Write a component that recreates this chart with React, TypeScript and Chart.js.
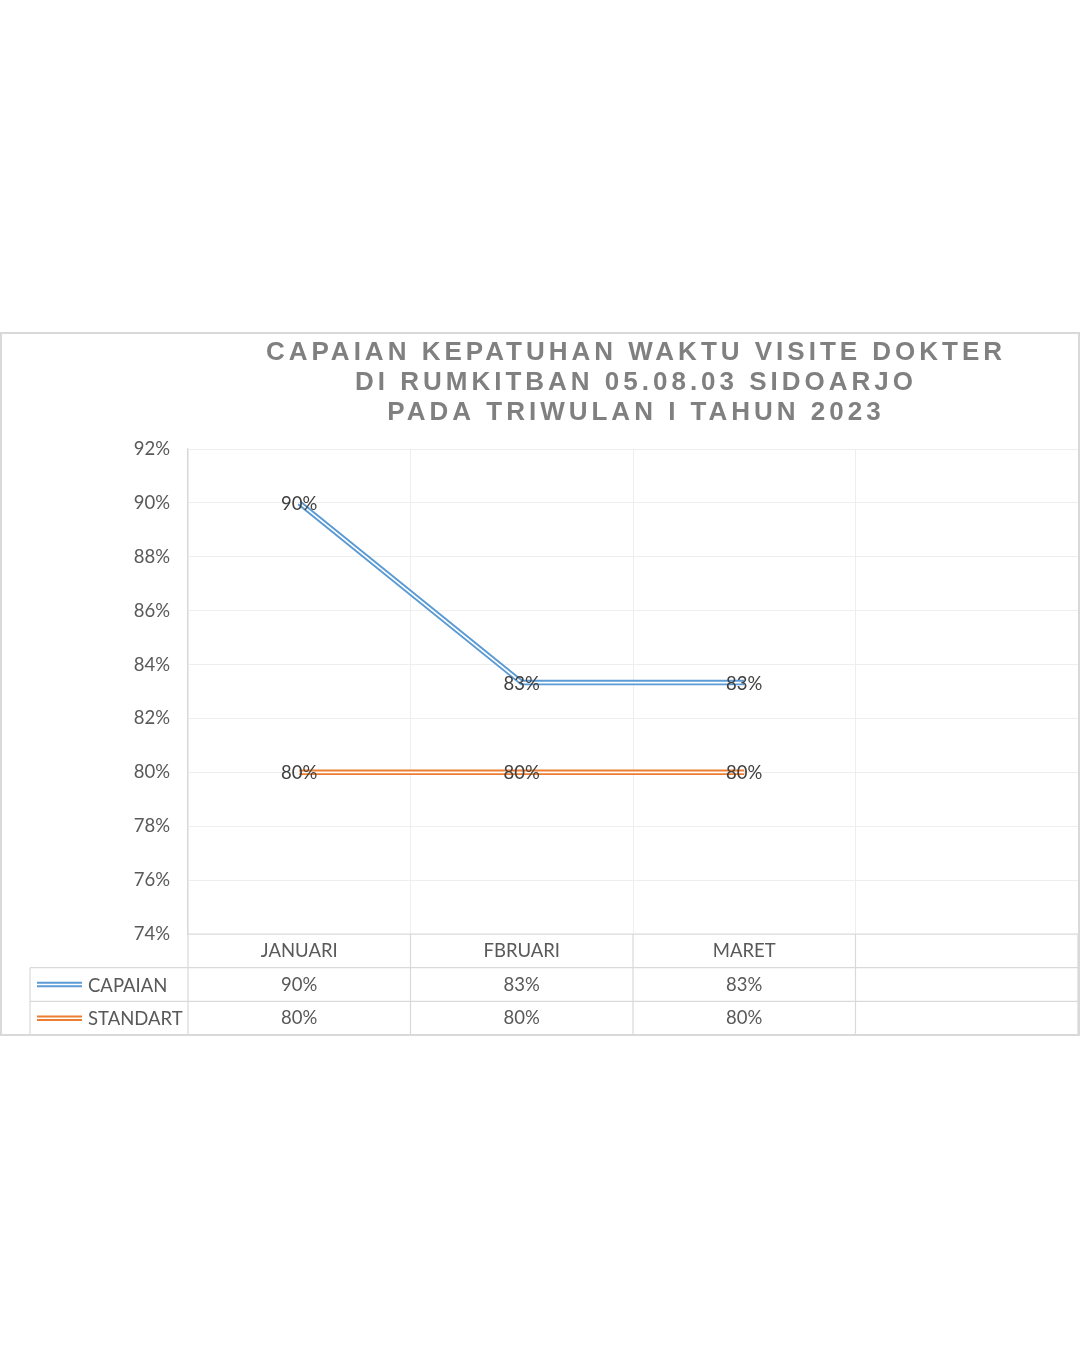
import React, { useEffect, useRef } from "react";
import { Chart, registerables } from "chart.js";

Chart.register(...registerables);

const titleLines = [
  "CAPAIAN KEPATUHAN WAKTU VISITE DOKTER",
  "DI RUMKITBAN 05.08.03 SIDOARJO",
  "PADA TRIWULAN I TAHUN 2023",
];
const categories = ["JANUARI", "FBRUARI", "MARET", ""];
const capaian: (number | null)[] = [90, 83.33, 83.33, null];
const standart: (number | null)[] = [80, 80, 80, null];
const seriesNames = ["CAPAIAN", "STANDART"];
const seriesColors = ["#5b9bd5", "#ed7d31"];
const yMin = 74;
const yMax = 92;
const yStep = 2;

const FONT = "Lato, 'Open Sans', sans-serif";
const TEXT = "#595959";
const GRIDLINE = "#d9d9d9";

const fmt = (v: number | null) => (v == null ? "" : Math.round(v) + "%");

const decorPlugin = {
  id: "decor",
  beforeDraw(chart: any) {
    const { ctx, width, height } = chart;
    ctx.save();
    ctx.fillStyle = "#ffffff";
    ctx.fillRect(0, 0, width, height);
    ctx.restore();
  },
  afterDatasetsDraw(chart: any) {
    const { ctx } = chart;
    ctx.save();
    ctx.font = `18.5px ${FONT}`;
    ctx.fillStyle = "#404040";
    ctx.textAlign = "center";
    ctx.textBaseline = "middle";
    [0, 1].forEach((di) => {
      const meta = chart.getDatasetMeta(di);
      const data = chart.data.datasets[di].data;
      meta.data.forEach((pt: any, i: number) => {
        if (data[i] == null) return;
        ctx.fillText(fmt(data[i]), pt.x, pt.y + 1);
      });
    });
    ctx.restore();
  },
  afterDraw(chart: any) {
    const { ctx, width, height, chartArea, scales } = chart;
    const xs = scales.x;
    const left = chartArea.left;
    const right = chartArea.right;
    const bottom = chartArea.bottom;
    const rowH = 33.7;
    const legendLeft = 30;

    // Title
    ctx.save();
    ctx.fillStyle = "#808080";
    ctx.font = `bold 26px 'Liberation Sans', Arial, sans-serif`;
    (ctx as any).letterSpacing = "4px";
    ctx.textAlign = "center";
    ctx.textBaseline = "middle";
    const cx = (left + right) / 2 + 3;
    titleLines.forEach((t, i) => ctx.fillText(t, cx, 21 + i * 30));
    ctx.restore();

    // Table lines
    ctx.save();
    ctx.strokeStyle = GRIDLINE;
    ctx.lineWidth = 1.2;
    const n = categories.length;
    const step = xs.getPixelForValue(1) - xs.getPixelForValue(0);
    const bounds: number[] = [];
    for (let i = 0; i <= n; i++) {
      bounds.push(i < n ? xs.getPixelForValue(i) - step / 2 : right);
    }
    const y0 = bottom;
    const y1 = bottom + rowH;
    const y2 = bottom + rowH * 2;
    const y3 = bottom + rowH * 3;
    ctx.beginPath();
    ctx.moveTo(left, y0);
    ctx.lineTo(right, y0);
    ctx.moveTo(legendLeft, y1);
    ctx.lineTo(right, y1);
    ctx.moveTo(legendLeft, y2);
    ctx.lineTo(right, y2);
    bounds.forEach((b) => {
      ctx.moveTo(b, y0);
      ctx.lineTo(b, y3);
    });
    ctx.moveTo(legendLeft, y1);
    ctx.lineTo(legendLeft, y3);
    ctx.stroke();
    ctx.restore();

    // Table text
    ctx.save();
    ctx.font = `18.5px ${FONT}`;
    ctx.fillStyle = TEXT;
    ctx.textAlign = "center";
    ctx.textBaseline = "middle";
    categories.forEach((c, i) => {
      const x = xs.getPixelForValue(i);
      ctx.fillText(c, x, y0 + rowH / 2);
      ctx.fillText(fmt(chart.data.datasets[0].data[i]), x, y1 + rowH / 2);
      ctx.fillText(fmt(chart.data.datasets[1].data[i]), x, y2 + rowH / 2);
    });
    [y1, y2].forEach((ry, k) => {
      const my = ry + rowH / 2;
      ctx.strokeStyle = seriesColors[k];
      ctx.lineWidth = 5.5;
      ctx.beginPath();
      ctx.moveTo(37, my);
      ctx.lineTo(82, my);
      ctx.stroke();
      ctx.strokeStyle = "#ffffff";
      ctx.lineWidth = 1.6;
      ctx.beginPath();
      ctx.moveTo(37, my);
      ctx.lineTo(82, my);
      ctx.stroke();
      ctx.textAlign = "left";
      ctx.fillStyle = TEXT;
      ctx.fillText(seriesNames[k], 88, my + 1);
    });
    ctx.restore();

    // Outer border
    ctx.save();
    ctx.strokeStyle = "#d9d9d9";
    ctx.lineWidth = 2;
    ctx.strokeRect(1, 1, width - 2, height - 2);
    ctx.restore();
  },
};

export default function App() {
  const ref = useRef<HTMLCanvasElement | null>(null);
  useEffect(() => {
    if (!ref.current) return;
    const chart = new Chart(ref.current, {
      type: "line",
      data: {
        labels: categories,
        datasets: [
          {
            label: seriesNames[0],
            data: capaian,
            borderColor: seriesColors[0],
            borderWidth: 5.5,
            pointRadius: 0,
            order: 2,
          },
          {
            label: seriesNames[1],
            data: standart,
            borderColor: seriesColors[1],
            borderWidth: 5.5,
            pointRadius: 0,
            order: 2,
          },
          {
            label: "inner1",
            data: capaian,
            borderColor: "#ffffff",
            borderWidth: 1.6,
            pointRadius: 0,
            order: 1,
          },
          {
            label: "inner2",
            data: standart,
            borderColor: "#ffffff",
            borderWidth: 1.6,
            pointRadius: 0,
            order: 1,
          },
        ],
      },
      options: {
        responsive: false,
        animation: false,
        layout: { padding: { left: 0, top: 117, right: 2, bottom: 102 } },
        plugins: {
          legend: { display: false },
          title: { display: false },
          tooltip: { enabled: false },
        },
        scales: {
          x: {
            type: "category",
            offset: true,
            grid: { display: true, offset: true, color: "#eeeeee", drawTicks: false },
            border: { display: false },
            ticks: { display: false },
            afterFit: (s: any) => {
              s.height = 0;
            },
          },
          y: {
            min: yMin,
            max: yMax,
            grid: { color: "#eeeeee", drawTicks: false },
            border: { display: true, color: "#d9d9d9", width: 1.2 },
            ticks: {
              stepSize: yStep,
              padding: 18,
              color: TEXT,
              font: { family: FONT, size: 18.5 },
              callback: (v: any) => v + "%",
            },
            afterFit: (s: any) => {
              s.width = 188;
            },
          },
        },
      },
      plugins: [decorPlugin],
    });
    return () => chart.destroy();
  }, []);
  return (
    <div style={{ position: "absolute", left: 0, top: 0, width: 1080, height: 1350, background: "#fff" }}>
      <canvas
        ref={ref}
        width={1080}
        height={704}
        style={{ position: "absolute", left: 0, top: 332, width: 1080, height: 704 }}
      />
    </div>
  );
}
